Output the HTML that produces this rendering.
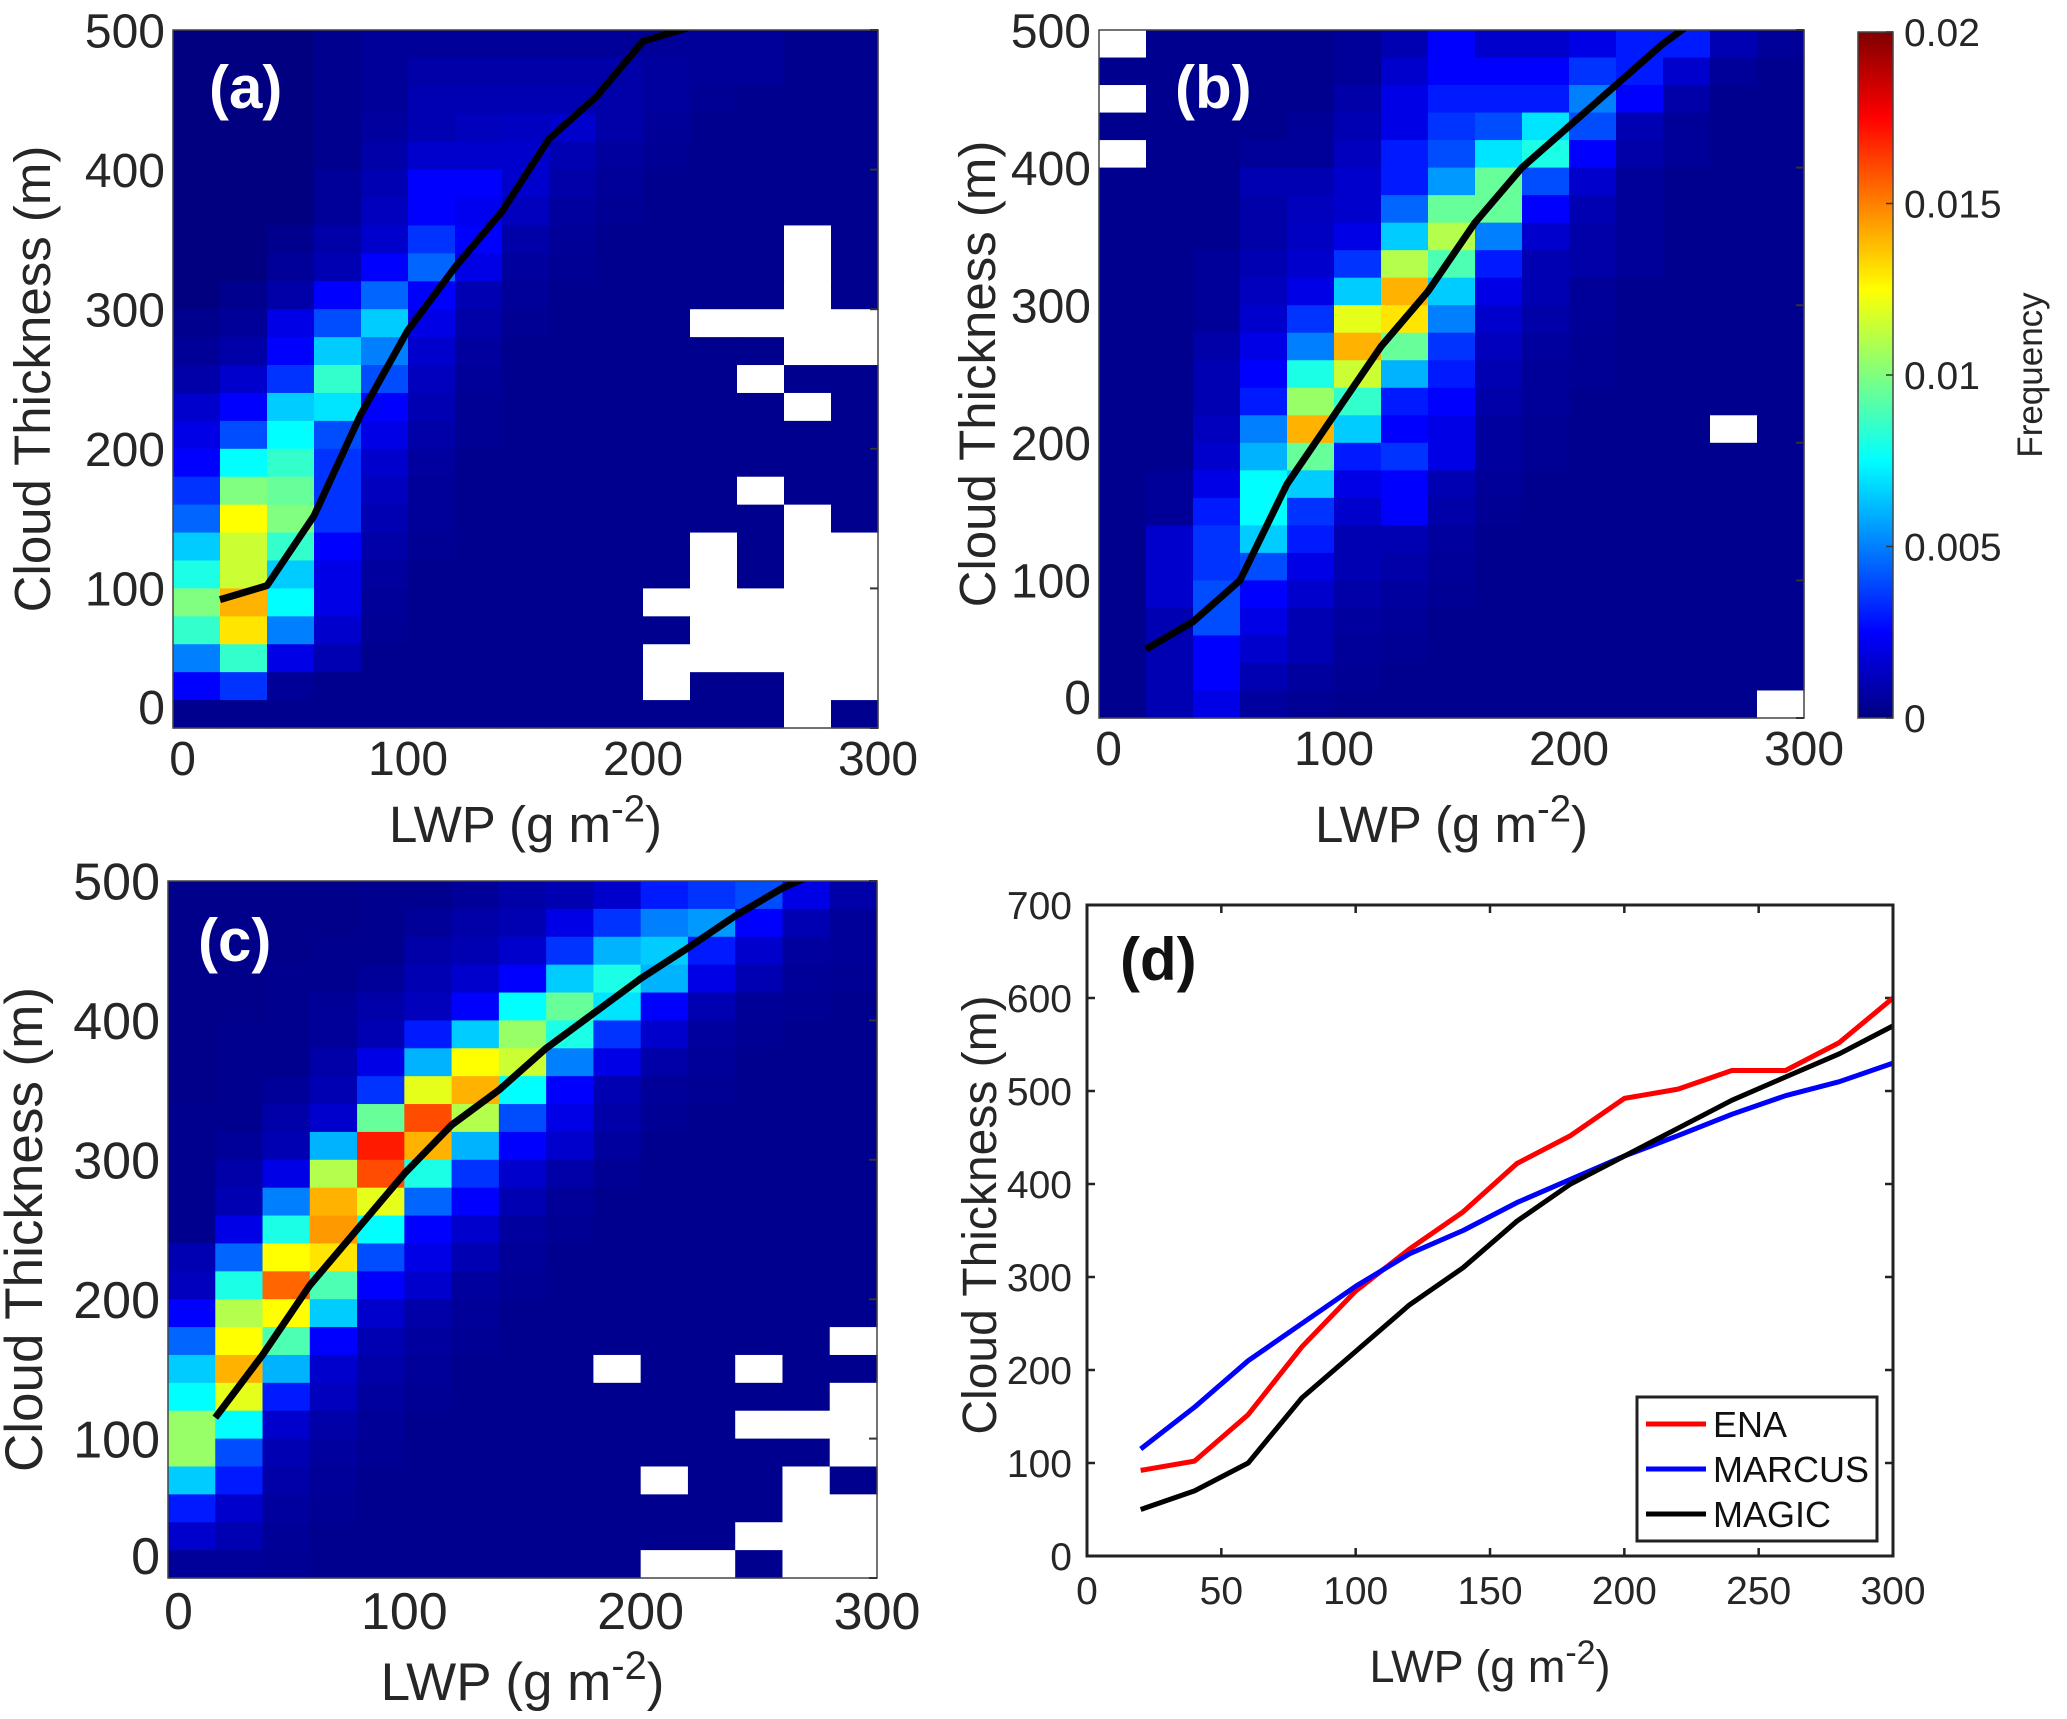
<!DOCTYPE html>
<html><head><meta charset="utf-8">
<style>
html,body{margin:0;padding:0;background:#fff;}
svg{display:block;font-family:"Liberation Sans",Arial,sans-serif;}
</style></head>
<body>
<svg id="fig" width="2067" height="1719" viewBox="0 0 2067 1719" xmlns="http://www.w3.org/2000/svg">
<defs>
<linearGradient id="jetgrad" x1="0" y1="1" x2="0" y2="0">
<stop offset="0" stop-color="#000080"/><stop offset="0.125" stop-color="#0000ff"/>
<stop offset="0.375" stop-color="#00ffff"/><stop offset="0.625" stop-color="#ffff00"/>
<stop offset="0.875" stop-color="#ff0000"/><stop offset="1" stop-color="#800000"/>
</linearGradient>
</defs>
</svg>
<script>
// ---- data (frequency x 1e-3), rows from top (480-500 m) to bottom (0-20 m), cols LWP 0-20 ... 280-300
const N = null;
const gridA = [
[0,0,0,0.3,0.5,0.5,0.5,0.5,0.5,0.5,0.5,0.5,0.5,0.3,0.3],
[0,0,0,0.3,0.5,0.8,0.8,0.8,0.8,0.8,0.6,0.5,0.5,0.3,0.3],
[0,0,0,0.3,0.5,1,1,1,1,0.8,0.6,0.4,0.3,0.3,0.3],
[0,0,0,0.3,0.6,1,1.2,1.3,1.5,0.8,0.5,0.3,0.3,0.3,0.3],
[0,0,0,0.3,0.8,1.5,1.5,1.5,1,0.6,0.4,0.3,0.3,0.3,0.3],
[0,0,0,0.5,1,2.5,2.5,1.5,0.8,0.5,0.3,0.3,0.3,0.3,0.3],
[0,0,0,0.5,1.2,2.5,2.2,1.2,0.6,0.4,0.3,0.3,0.3,0.3,0.3],
[0,0,0.3,0.8,1.5,3.5,2.5,0.8,0.5,0.3,0.3,0.3,0.3,N,0.3],
[0,0,0.5,1,2.5,4.5,2,0.6,0.4,0.3,0.3,0.3,0.3,N,0.3],
[0,0.3,0.8,2.5,4.5,2.5,1,0.5,0.3,0.3,0.3,0.3,0.3,N,0.3],
[0.3,0.5,2,4,6.5,2,0.8,0.4,0.3,0.3,0.3,N,N,N,N],
[0.5,0.8,2.5,6.5,5,1.5,0.6,0.3,0.3,0.3,0.3,0.3,0.3,N,N],
[0.8,1.5,3.5,8.5,4,1.2,0.5,0.3,0.3,0.3,0.3,0.3,N,0.3,0.3],
[1.5,2.5,6.5,7,2.5,1,0.4,0.3,0.3,0.3,0.3,0.3,0.3,N,0.3],
[2,4,7.5,4,2,0.8,0.4,0.3,0.3,0.3,0.3,0.3,0.3,0.3,0.3],
[2.5,7.5,8.5,3.5,1.5,0.6,0.3,0.3,0.3,0.3,0.3,0.3,0.3,0.3,0.3],
[3.5,10,9.5,3.5,1.2,0.5,0.3,0.3,0.3,0.3,0.3,0.3,N,0.3,0.3],
[4.5,12.5,10,3.5,1,0.5,0.3,0.3,0.3,0.3,0.3,0.3,0.3,N,0.3],
[6.5,11.5,8.5,2.5,0.8,0.4,0.3,0.3,0.3,0.3,0.3,N,0.3,N,N],
[8,11.5,6.5,2,0.6,0.3,0.3,0.3,0.3,0.3,0.3,N,0.3,N,N],
[10,14,7.5,2,0.5,0.3,0.3,0.3,0.3,0.3,N,N,N,N,N],
[8.5,13,5,1.5,0.4,0.3,0.3,0.3,0.3,0.3,0.3,N,N,N,N],
[5,8.5,2,1,0.3,0.3,0.3,0.3,0.3,0.3,N,N,N,N,N],
[2.5,3.5,0.5,0.3,0.3,0.3,0.3,0.3,0.3,0.3,N,0.3,0.3,N,N],
[0.3,0.3,0.3,0.3,0.3,0.3,0.3,0.3,0.3,0.3,0.3,0.3,0.3,N,0.3]
];
const gridB = [
[N,0.3,0.3,0.3,0.3,0.5,1,2.5,1.5,1.5,2,3,3,1,0.5],
[0.3,0.3,0.3,0.3,0.3,0.5,1.5,2.5,2.5,2.5,3.5,3,1.5,0.5,0.3],
[N,0.3,0.3,0.3,0.3,0.8,2,3,3,3,5,2.5,0.8,0.3,0.3],
[0.3,0.3,0.3,0.3,0.5,1,2,3.5,4,7,4,1,0.5,0.3,0.3],
[N,0.3,0.3,0.5,0.5,1.2,3,4,7,8,2.5,0.8,0.5,0.3,0.3],
[0.3,0.3,0.3,1,1,1.5,3,5.5,9.5,4,1.5,0.5,0.3,0.3,0.3],
[0.3,0.3,0.3,0.8,1.2,1.5,4.5,9.5,9.5,2.5,1,0.5,0.3,0.3,0.3],
[0.3,0.3,0.3,0.8,1.3,2,6.5,11,5,1.5,0.8,0.5,0.3,0.3,0.3],
[0.3,0.3,0.5,1,1.5,3.5,11,9,3,1,0.8,0.5,0.3,0.3,0.3],
[0.3,0.3,0.5,1.2,2,6.5,14,6.5,2,1,0.5,0.3,0.3,0.3,0.3],
[0.3,0.3,0.5,1.5,3.5,12,13,5,1.5,0.8,0.5,0.3,0.3,0.3,0.3],
[0.3,0.3,0.8,2,5,14,9.5,3.5,1.2,0.6,0.4,0.3,0.3,0.3,0.3],
[0.3,0.3,1,2.5,8,11.5,6,3,1,0.5,0.4,0.3,0.3,0.3,0.3],
[0.3,0.3,1,3,10.5,8.5,3,2.5,0.8,0.5,0.3,0.3,0.3,0.3,0.3],
[0.3,0.3,1.2,5,14,6.5,2.5,2,0.6,0.4,0.3,0.3,0.3,N,0.3],
[0.3,0.3,1.5,6,9.5,3,3.5,2,0.6,0.4,0.3,0.3,0.3,0.3,0.3],
[0.3,0.5,2,7.5,6.5,2,2.5,1,0.5,0.3,0.3,0.3,0.3,0.3,0.3],
[0.3,0.5,3,7.5,3.5,1.5,2.5,0.8,0.4,0.3,0.3,0.3,0.3,0.3,0.3],
[0.3,1.5,3.5,6.5,3,1,1,0.6,0.3,0.3,0.3,0.3,0.3,0.3,0.3],
[0.3,1.5,3.5,4,2,1,0.8,0.5,0.3,0.3,0.3,0.3,0.3,0.3,0.3],
[0.3,1.5,4,2.5,1.5,0.8,0.6,0.4,0.3,0.3,0.3,0.3,0.3,0.3,0.3],
[0.3,1,4,2,1,0.6,0.5,0.3,0.3,0.3,0.3,0.3,0.3,0.3,0.3],
[0.3,1,2.5,1.5,1,0.5,0.4,0.3,0.3,0.3,0.3,0.3,0.3,0.3,0.3],
[0.3,1,2.5,1,0.6,0.4,0.3,0.3,0.3,0.3,0.3,0.3,0.3,0.3,0.3],
[0.3,1,2,0.6,0.4,0.3,0.3,0.3,0.3,0.3,0.3,0.3,0.3,0.3,N]
];
const gridC = [
[0.2,0.2,0.2,0.2,0.3,0.3,0.5,0.8,1,1.5,3,3.5,4,2,0.8],
[0.2,0.2,0.2,0.2,0.3,0.5,0.8,1,2,3.5,5,5.5,2.5,1,0.5],
[0.2,0.2,0.2,0.3,0.3,0.8,1,1.5,3.5,6,6.5,3,1.5,0.6,0.5],
[0.2,0.2,0.3,0.3,0.5,1,1.5,2.5,6.5,8,6,2,1,0.5,0.4],
[0.2,0.2,0.3,0.5,0.8,1.2,2.5,7.5,9.5,7,2.5,1,0.5,0.4,0.3],
[0.2,0.3,0.3,0.5,1,3,6.5,10.5,8,3.5,1.5,0.6,0.4,0.3,0.3],
[0.2,0.3,0.3,0.8,2,6,12.5,11.5,5,2,0.8,0.5,0.3,0.3,0.3],
[0.2,0.3,0.5,1,3.5,12,14,7.5,2.5,1,0.5,0.4,0.3,0.3,0.3],
[0.3,0.3,0.8,1.5,9.5,16,11,4,2,0.8,0.4,0.3,0.3,0.3,0.3],
[0.3,0.5,1,6,17,14,6,2.5,1.5,0.6,0.3,0.3,0.3,0.3,0.3],
[0.3,0.8,2,11,16,8,3.5,1.5,0.8,0.4,0.3,0.3,0.3,0.3,0.3],
[0.3,1,5,14,12,4.5,2.5,1,0.5,0.3,0.3,0.3,0.3,0.3,0.3],
[0.3,2,8,14.5,7.5,2.5,1.5,0.6,0.4,0.3,0.3,0.3,0.3,0.3,0.3],
[1,4.5,12.5,13,4,2,1,0.5,0.3,0.3,0.3,0.3,0.3,0.3,0.3],
[1.2,8,15.5,9,2.5,1.5,0.6,0.4,0.3,0.3,0.3,0.3,0.3,0.3,0.3],
[2.5,11,12.5,6.5,1.5,0.8,0.5,0.3,0.3,0.3,0.3,0.3,0.3,0.3,0.3],
[4.5,12.5,9,2.5,1,0.6,0.4,0.3,0.3,0.3,0.3,0.3,0.3,0.3,N],
[6.5,14,6,1.5,0.8,0.5,0.3,0.3,0.3,N,0.3,0.3,N,0.3,0.3],
[7.5,12,3,1.2,0.6,0.4,0.3,0.3,0.3,0.3,0.3,0.3,0.3,0.3,N],
[10.5,7.5,1.5,0.8,0.5,0.3,0.3,0.3,0.3,0.3,0.3,0.3,N,N,N],
[10.5,4,1,0.6,0.4,0.3,0.3,0.3,0.3,0.3,0.3,0.3,0.3,0.3,N],
[6.5,3,0.8,0.5,0.3,0.3,0.3,0.3,0.3,0.3,N,0.3,0.3,N,0.3],
[3,1.5,0.6,0.4,0.3,0.3,0.3,0.3,0.3,0.3,0.3,0.3,0.3,N,N],
[1.5,1,0.5,0.3,0.3,0.3,0.3,0.3,0.3,0.3,0.3,0.3,N,N,N],
[0.5,0.5,0.4,0.3,0.3,0.3,0.3,0.3,0.3,0.3,N,N,0.3,N,N]
];
const lwpBins = [20,40,60,80,100,120,140,160,180,200,220,240,260,280,300];
const enaThick = [92,102,152,225,285,330,370,422,452,492,502,522,522,552,600];
const marcusThick = [115,160,210,250,290,325,350,380,405,430,452,475,495,510,530];
const magicThick = [50,70,100,170,220,270,310,360,400,430,460,490,515,540,570];
const heatYTicks = [0,100,200,300,400,500];
const heatXTicks = [0,100,200,300];
const dXTicks = [0,50,100,150,200,250,300];
const dYTicks = [0,100,200,300,400,500,600,700];
const cbTicks = [0,0.005,0.01,0.015,0.02];
const cbLabels = ["0","0.005","0.01","0.015","0.02"];

const NS = "http://www.w3.org/2000/svg";
const svg = document.getElementById('fig');
function mk(tag, attrs, parent){const e=document.createElementNS(NS,tag);for(const k in attrs)e.setAttribute(k,attrs[k]);(parent||svg).appendChild(e);return e;}
function jet(t){t=Math.max(0,Math.min(1,t));const c=v=>Math.round(255*Math.max(0,Math.min(1,v)));
 return `rgb(${c(1.5-Math.abs(4*t-3))},${c(1.5-Math.abs(4*t-2))},${c(1.5-Math.abs(4*t-1))})`;}
const TXT = "#262626";

function heatPanel(id, grid, line, box, letter, tickFs, titleFs, yTitleX, xTitleY, opts){
  const g = mk('g',{});
  
  
  const sx = v => box.x0 + (v/300)*(box.x1-box.x0);
  const sy = v => box.y1 - (v/500)*(box.y1-box.y0);
  const nr = grid.length, nc = grid[0].length;
  for(let r=0;r<nr;r++)for(let c=0;c<nc;c++){
    const v = grid[r][c];
    const x0 = sx(c*20), x1 = sx((c+1)*20);
    const yTop = sy(500 - r*20), yBot = sy(500-(r+1)*20);
    const cell = mk('rect',{x:x0.toFixed(2),y:yTop.toFixed(2),width:(x1-x0+0.6).toFixed(2),height:(yBot-yTop+0.6).toFixed(2),fill: v===null?'#ffffff':jet(v/20)},g);
    
    
  }
  const cp = mk('clipPath',{id:'clip-'+id},g);
  mk('rect',{x:box.x0,y:box.y0,width:box.x1-box.x0,height:box.y1-box.y0},cp);
  const pts = lwpBins.map((x,i)=>sx(x).toFixed(1)+','+sy(line[i]).toFixed(1)).join(' ');
  const pl = mk('polyline',{points:pts,fill:'none',stroke:'#000','stroke-width':7,'stroke-linejoin':'round','clip-path':`url(#clip-${id})`},g);
  
  
  const fr = mk('rect',{x:box.x0,y:box.y0,width:box.x1-box.x0,height:box.y1-box.y0,fill:'none',stroke:'#444','stroke-width':1.5},g);
  
  
  heatYTicks.forEach(v=>{
    const y = sy(v);
    mk('line',{x1:box.x1-8,x2:box.x1,y1:y,y2:y,stroke:'#333','stroke-width':2},g);
    const t = mk('text',{x:box.x0-8,y:(v===0? y-4 : y+tickFs*0.36),'text-anchor':'end','font-size':tickFs,fill:TXT},g);
    t.textContent = v;
    
    
  });
  heatXTicks.forEach(v=>{
    const t = mk('text',{x:sx(v)+(v===0?tickFs*0.2:0),y:box.y1+tickFs*0.98,'text-anchor':'middle','font-size':tickFs,fill:TXT},g);
    t.textContent = v;
    
    
  });
  const xt = mk('text',{x:(box.x0+box.x1)/2,y:xTitleY,'text-anchor':'middle','font-size':titleFs,fill:TXT},g);
  xt.innerHTML = 'LWP (g m<tspan dy="-'+(titleFs*0.4)+'" font-size="'+(titleFs*0.75)+'">-2</tspan><tspan dy="'+(titleFs*0.4)+'">)</tspan>';
  
  
  const cy = (box.y0+box.y1)/2;
  const yt = mk('text',{x:yTitleX,y:cy,'text-anchor':'middle','font-size':titleFs,fill:TXT,transform:`rotate(-90 ${yTitleX} ${cy})`},g);
  yt.textContent = 'Cloud Thickness (m)';
  
  
  const pl2 = mk('text',{x:box.x0+opts.lx,y:box.y0+opts.ly,'font-size':opts.lfs,'font-weight':'bold',fill:'#fff'},g);
  pl2.textContent = letter;
  
  
}

heatPanel('a', gridA, enaThick, {x0:173,x1:878,y0:30,y1:728}, '(a)', 48, 51, 50, 842, {lx:36,ly:78,lfs:60});
heatPanel('b', gridB, magicThick, {x0:1099,x1:1804,y0:30,y1:718}, '(b)', 48, 51, 995, 842, {lx:76,ly:78,lfs:60});
heatPanel('c', gridC, marcusThick, {x0:168,x1:877,y0:881,y1:1578}, '(c)', 52, 53, 42, 1700, {lx:30,ly:80,lfs:60});

// colorbar
(function(){
  const g = mk('g',{});
  
  
  const cb = {x0:1858,x1:1893,y0:32,y1:718};
  mk('rect',{x:cb.x0,y:cb.y0,width:cb.x1-cb.x0,height:cb.y1-cb.y0,fill:'url(#jetgrad)',stroke:'#444','stroke-width':1.5},g);
  const sy = v => cb.y1 - (v/0.02)*(cb.y1-cb.y0);
  cbTicks.forEach((v,i)=>{
    const y = sy(v);
    mk('line',{x1:cb.x1-7,x2:cb.x1,y1:y,y2:y,stroke:'#333','stroke-width':1.5},g);
    const t = mk('text',{x:1904,y:y+14,'font-size':39,fill:TXT},g);
    t.textContent = cbLabels[i];
    
    
  });
  const t = mk('text',{x:2042,y:375,'text-anchor':'middle','font-size':35,fill:TXT,transform:'rotate(-90 2042 375)'},g);
  t.textContent = 'Frequency';
  
  
})();

// panel d
(function(){
  const g = mk('g',{});
  
  
  const box = {x0:1087,x1:1893,y0:905,y1:1556};
  const sx = v => box.x0 + (v/300)*(box.x1-box.x0);
  const sy = v => box.y1 - (v/700)*(box.y1-box.y0);
  const fs = 39;
  dXTicks.forEach(v=>{
    const x = sx(v);
    mk('line',{x1:x,x2:x,y1:box.y1,y2:box.y1-8,stroke:'#222','stroke-width':2.5},g);
    mk('line',{x1:x,x2:x,y1:box.y0,y2:box.y0+8,stroke:'#222','stroke-width':2.5},g);
    const t = mk('text',{x:x,y:box.y1+48,'text-anchor':'middle','font-size':fs,fill:TXT},g);
    t.textContent = v;
    
    
  });
  dYTicks.forEach(v=>{
    const y = sy(v);
    mk('line',{x1:box.x0,x2:box.x0+8,y1:y,y2:y,stroke:'#222','stroke-width':2.5},g);
    mk('line',{x1:box.x1,x2:box.x1-8,y1:y,y2:y,stroke:'#222','stroke-width':2.5},g);
    const t = mk('text',{x:box.x0-15,y:y+14,'text-anchor':'end','font-size':fs,fill:TXT},g);
    t.textContent = v;
    
    
  });
  const series = [[enaThick,'#ff0000','ena-line'],[marcusThick,'#0000ff','marcus-line'],[magicThick,'#000000','magic-line']];
  series.forEach(s=>{
    const pts = lwpBins.map((x,i)=>sx(x).toFixed(1)+','+sy(s[0][i]).toFixed(1)).join(' ');
    const p = mk('polyline',{points:pts,fill:'none',stroke:s[1],'stroke-width':5,'stroke-linejoin':'round'},g);
    
    
  });
  mk('rect',{x:box.x0,y:box.y0,width:box.x1-box.x0,height:box.y1-box.y0,fill:'none',stroke:'#222','stroke-width':3},g);
  const lab = mk('text',{x:1120,y:980,'font-size':60,'font-weight':'bold',fill:'#111'},g);
  lab.textContent = '(d)';
  
  
  const xt = mk('text',{x:(box.x0+box.x1)/2,y:1682,'text-anchor':'middle','font-size':45,fill:TXT},g);
  xt.innerHTML = 'LWP (g m<tspan dy="-18" font-size="34">-2</tspan><tspan dy="18">)</tspan>';
  
  
  const cy = 1215;
  const yt = mk('text',{x:996,y:cy,'text-anchor':'middle','font-size':48,fill:TXT,transform:`rotate(-90 996 ${cy})`},g);
  yt.textContent = 'Cloud Thickness (m)';
  
  
  // legend
  const lg = mk('g',{},g);
  
  
  mk('rect',{x:1637,y:1397,width:240,height:144,fill:'#fff',stroke:'#222','stroke-width':3},lg);
  const names = ['ENA','MARCUS','MAGIC'];
  series.forEach((s,i)=>{
    const y = 1424 + i*45;
    const e = mk('g',{},lg);
    
    
    mk('line',{x1:1646,x2:1706,y1:y,y2:y,stroke:s[1],'stroke-width':5},e);
    const t = mk('text',{x:1713,y:y+13,'font-size':36,fill:'#111'},e);
    t.textContent = names[i];
  });
})();
</script>
</body></html>
